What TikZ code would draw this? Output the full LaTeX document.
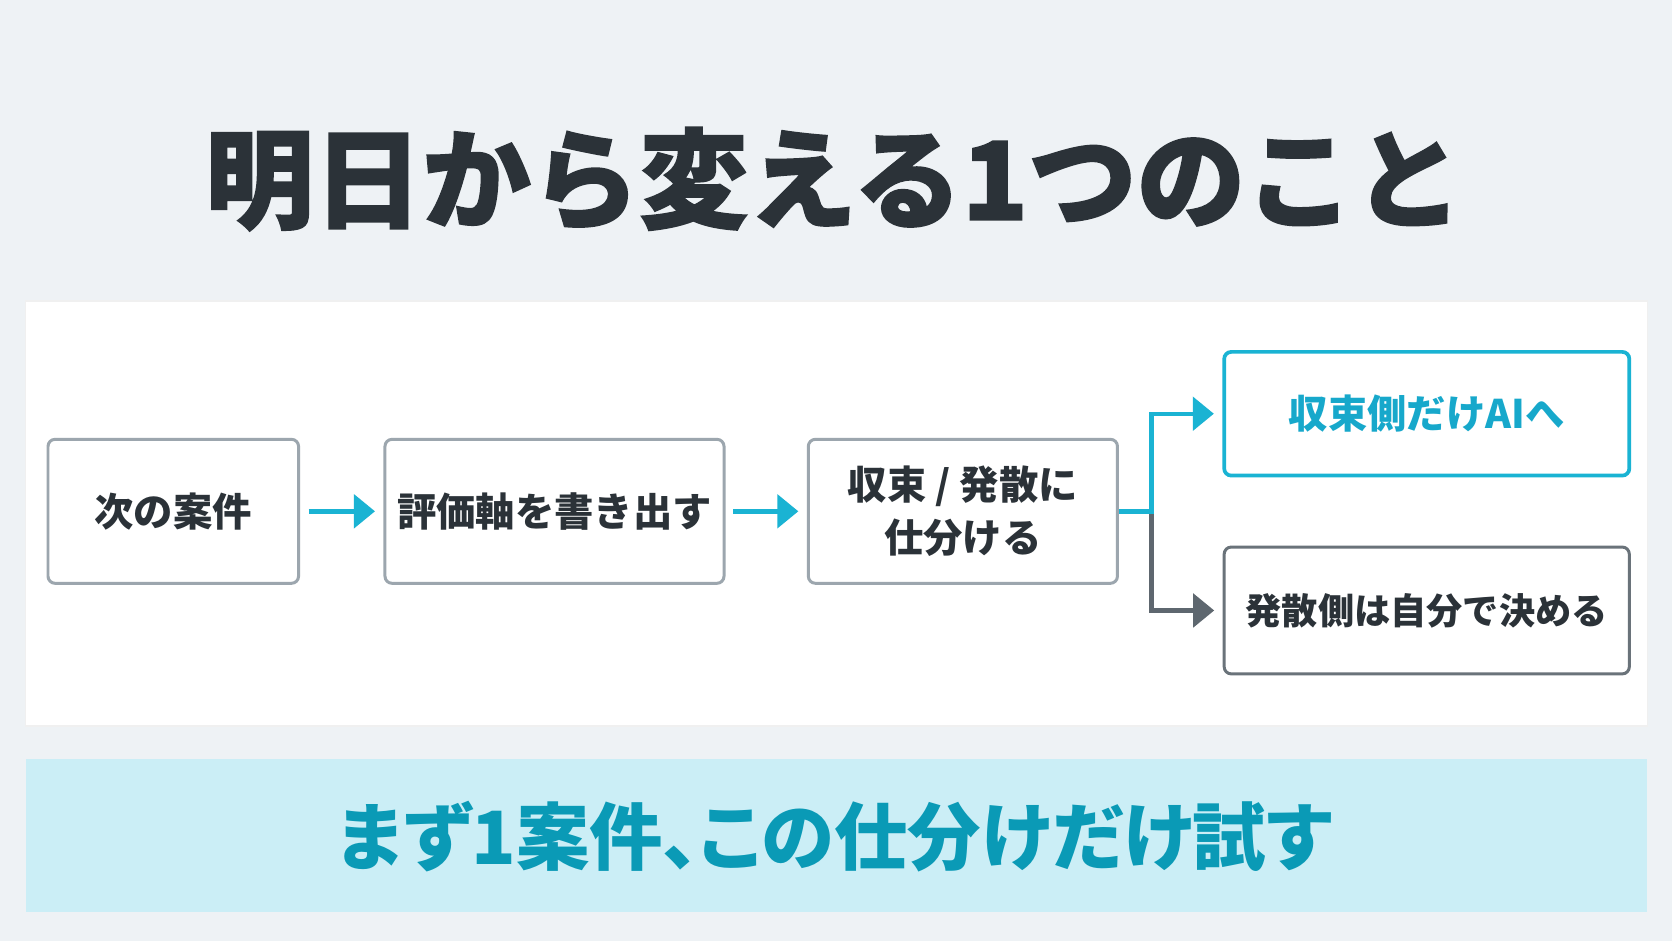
\documentclass[tikz,border=0pt]{standalone}
\usepackage{fontspec}
\setmainfont{Noto Sans CJK JP}
\newfontfamily\heavyfont{Noto Sans CJK JP}[BoldFeatures={FakeBold=1.4}]
\newfontfamily\tightfont{Noto Sans CJK JP}[RawFeature=+palt]
\usetikzlibrary{arrows.meta}
\definecolor{bgcol}{HTML}{EEF2F5}
\definecolor{inkcol}{HTML}{2B3238}
\definecolor{framecol}{HTML}{9CA6AE}
\definecolor{darkframe}{HTML}{6A737A}
\definecolor{cyancol}{HTML}{1AB3D3}
\definecolor{cyantext}{HTML}{17A8CB}
\definecolor{bandcol}{HTML}{CBEEF6}
\definecolor{bandtext}{HTML}{0A9AB6}
\definecolor{graycol}{HTML}{5E676F}
\tikzset{
  stepbox/.style={draw=framecol, line width=0.85pt, rounded corners=2pt, fill=white,
    text=inkcol, font=\bfseries\fontsize{11.2pt}{15pt}\selectfont, align=center, inner sep=0pt},
  flow/.style={draw=cyancol, line width=1.25pt, -{Triangle[length=6pt, width=9.5pt]}},
  flowgray/.style={draw=graycol, line width=1.25pt, -{Triangle[length=6pt, width=9.5pt]}}
}
\begin{document}
\begin{tikzpicture}[x=0.0106633cm, y=-0.0106633cm]
	% Hintergrund
	\fill[bgcol] (0,0) rectangle (1568,882.5);
	\useasboundingbox (0,0) rectangle (1568,882.5);
	% Titel
	\node[text=inkcol, font=\heavyfont\bfseries\fontsize{30.9pt}{36pt}\selectfont] (title) at (782,168) {明日から変える1つのこと};
	% Flaeche
	\draw[fill=white, draw=black!6, line width=0.5pt] (24,282) rectangle (1545,681);
	% Schritte
	\node[stepbox, minimum width=2.506cm, minimum height=1.44cm] (next) at (162.5,479.5) {次の案件};
	\node[stepbox, minimum width=3.391cm, minimum height=1.44cm] (axis) at (520,479.5) {評価軸を書き出す};
	\node[stepbox, minimum width=3.092cm, minimum height=1.44cm] (sort) at (903,479.5) {収束 / 発散に\\仕分ける};
	\node[stepbox, draw=cyancol, line width=1.05pt, text=cyantext, minimum width=4.052cm, minimum height=1.237cm] (ai) at (1338,388) {収束側だけAIへ};
	\node[stepbox, draw=darkframe, font=\bfseries\fontsize{10.3pt}{13pt}\selectfont, minimum width=4.052cm, minimum height=1.269cm] (self) at (1338,572.5) {発散側は自分で決める};
	% Pfeile
	\draw[flow, shorten <=0.085cm, shorten >=0.085cm] (next) -- (axis);
	\draw[flow, shorten <=0.075cm, shorten >=0.085cm] (axis) -- (sort);
	\coordinate (split) at (1080,479.5);
	\draw[flowgray, shorten >=0.085cm] (split) |- (self.west);
	\draw[flow, shorten >=0.085cm] (sort.east) -- (split) |- (ai.west);
	% Fazit
	\fill[bandcol] (24,712) rectangle (1545,855);
	\node[text=bandtext, font=\tightfont\bfseries\fontsize{20.9pt}{25pt}\selectfont] (try) at (783,785) {まず1案件、この仕分けだけ試す};
\end{tikzpicture}
\end{document}
